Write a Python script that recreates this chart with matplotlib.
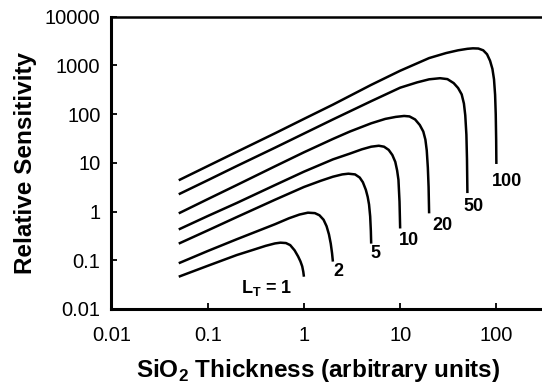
import matplotlib
matplotlib.use("Agg")
import matplotlib.pyplot as plt

# readings (log-log)
thickness_lt1 = [0.05, 0.1, 0.2, 0.3, 0.4, 0.5, 0.57, 0.65, 0.72, 0.8, 0.87, 0.92, 0.96, 0.985, 1.0]
sens_lt1 = [0.046, 0.077, 0.128, 0.165, 0.198, 0.222, 0.23, 0.226, 0.205, 0.16, 0.12, 0.095, 0.075, 0.058, 0.046]

thickness_lt2 = [0.05, 0.1, 0.2, 0.3, 0.5, 0.7, 0.9, 1.1, 1.3, 1.45, 1.6, 1.72, 1.82, 1.9, 1.96, 2.0]
sens_lt2 = [0.087, 0.155, 0.27, 0.37, 0.55, 0.73, 0.87, 0.95, 0.93, 0.84, 0.68, 0.5, 0.34, 0.22, 0.14, 0.094]

thickness_lt5 = [0.05, 0.1, 0.2, 0.5, 1, 1.5, 2, 2.5, 2.9, 3.4, 3.8, 4.1, 4.4, 4.6, 4.75, 4.88, 4.96, 5.0]
sens_lt5 = [0.22, 0.41, 0.77, 1.75, 3.2, 4.3, 5.2, 5.8, 6.0, 5.8, 5.0, 4.0, 2.8, 2.0, 1.4, 0.8, 0.4, 0.22]

thickness_lt10 = [0.05, 0.1, 0.2, 0.5, 1, 2, 3, 4, 5, 6, 6.8, 7.6, 8.3, 8.9, 9.3, 9.6, 9.85, 10]
sens_lt10 = [0.43, 0.81, 1.5, 3.5, 6.6, 11.8, 15.5, 19, 21.5, 22.5, 21.5, 18.5, 14.5, 10.5, 7, 4.5, 1.6, 0.45]

thickness_lt20 = [0.05, 0.1, 0.2, 0.5, 1, 2, 3, 5, 7, 9, 11, 12.5, 14.3, 16, 17.4, 18.3, 18.9, 19.4, 19.75, 20]
sens_lt20 = [0.92, 1.8, 3.5, 8.5, 16.5, 31, 44, 65, 80, 88, 92, 90, 78, 60, 44, 30, 18, 8, 3.2, 0.92]

thickness_lt50 = [0.05, 0.1, 0.2, 0.5, 1, 2, 5, 10, 15, 20, 26, 31, 36, 40, 43.6, 46, 47.5, 48.8, 49.5, 50]
sens_lt50 = [2.27, 4.4, 8.6, 20.5, 40, 78, 185, 350, 450, 520, 548, 525, 435, 345, 255, 165, 95, 38, 12, 2.4]

thickness_lt100 = [0.05, 0.1, 0.2, 0.5, 1, 2, 5, 10, 20, 30, 40, 50, 57, 65, 73, 80, 86, 91, 94.5, 97, 98.5, 99.5, 100]
sens_lt100 = [4.4, 8.6, 16.8, 40.5, 80, 157, 400, 780, 1420, 1800, 2050, 2200, 2250, 2230, 2050, 1700, 1250, 850, 520, 250, 100, 30, 9.5]

x_ticks = [0.01, 0.1, 1, 10, 100]
x_labels = ['0.01', '0.1', '1', '10', '100']
y_ticks = [0.01, 0.1, 1, 10, 100, 1000, 10000]
y_labels = ['0.01', '0.1', '1', '10', '100', '1000', '10000']

plt.rcParams['font.family'] = ['Liberation Sans', 'DejaVu Sans']
plt.rcParams['mathtext.fontset'] = 'custom'
plt.rcParams['mathtext.rm'] = 'Liberation Sans'
plt.rcParams['mathtext.bf'] = 'Liberation Sans:bold'

fig = plt.figure(figsize=(5.42, 3.86), dpi=100)
ax = fig.add_axes([0.2057, 0.1995, 0.7943, 0.757])

curves = [(thickness_lt1, sens_lt1), (thickness_lt2, sens_lt2), (thickness_lt5, sens_lt5),
          (thickness_lt10, sens_lt10), (thickness_lt20, sens_lt20), (thickness_lt50, sens_lt50),
          (thickness_lt100, sens_lt100)]
for xs, ys in curves:
    ax.plot(xs, ys, color='black', lw=1.8, solid_joinstyle='round', solid_capstyle='butt')

ax.set_xscale('log')
ax.set_yscale('log')
ax.set_xlim(0.01, 298)
ax.set_ylim(0.01, 10000)
ax.set_xticks(x_ticks)
ax.set_xticklabels(x_labels)
ax.set_yticks(y_ticks)
ax.set_yticklabels(y_labels)
ax.minorticks_off()
ax.tick_params(direction='in', length=4, width=1.3, labelsize=14.5)
ax.tick_params(axis='x', pad=12)
ax.tick_params(axis='y', pad=8)

ax.spines['right'].set_visible(False)
ax.spines['left'].set_linewidth(2.2)
ax.spines['bottom'].set_linewidth(2.2)
ax.spines['top'].set_linewidth(1.8)

ax.set_xlabel(r'SiO$_\mathbf{2}$ Thickness (arbitrary units)', fontsize=17.5, fontweight='bold')
ax.set_ylabel('Relative Sensitivity', fontsize=17.5, fontweight='bold')
ax.xaxis.set_label_coords(0.48, -0.165)
ax.yaxis.set_label_coords(-0.174, 0.5)

lab = dict(fontsize=13, fontweight='bold', ha='center', va='center')
ax.text(0.41, 0.027, r'L$_\mathbf{T}$ = 1', **lab)
ax.text(2.28, 0.058, '2', **lab)
ax.text(5.5, 0.14, '5', **lab)
ax.text(12.2, 0.26, '10', **lab)
ax.text(27.7, 0.51, '20', **lab)
ax.text(57.7, 1.26, '50', **lab)
ax.text(128, 4.1, '100', **lab)

fig.savefig('out.png', dpi=100)
